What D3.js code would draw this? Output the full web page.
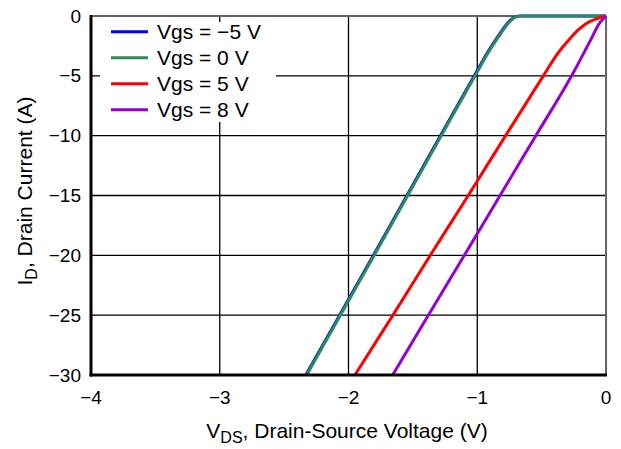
<!DOCTYPE html>
<html>
<head>
<meta charset="utf-8">
<script src="https://cdn.jsdelivr.net/npm/d3@7"></script>
<style>
  html, body { margin: 0; padding: 0; background: #fff; }
  svg { display: block; font-family: "Liberation Sans", Arial, Helvetica, sans-serif; }
</style>
</head>
<body>
<div id="chart"></div>
<script>
// tick values
const xTicks = [-4, -3, -2, -1, 0]
const yTicks = [0, -5, -10, -15, -20, -25, -30]

// curves: [VDS (V), ID (A)]
const vgsNeg5 = [[-2.331, -30], [-2.069, -25], [-1.806, -20], [-1.546, -15], [-1.286, -10], [-1.023, -5],
  [-0.906, -2.8], [-0.829, -1.55], [-0.776, -0.75], [-0.726, -0.2], [-0.696, -0.04], [-0.666, 0], [-0.3, 0], [0, 0]]
const vgs0 = [[-2.325, -30], [-2.063, -25], [-1.80, -20], [-1.54, -15], [-1.28, -10], [-1.017, -5],
  [-0.90, -2.8], [-0.823, -1.55], [-0.77, -0.75], [-0.72, -0.2], [-0.69, -0.04], [-0.66, 0], [-0.3, 0], [0, 0]]
const vgs5 = [[-1.95, -30], [-1.655, -25], [-1.365, -20], [-1.07, -15], [-0.78, -10], [-0.487, -5],
  [-0.38, -3.2], [-0.305, -2.2], [-0.22, -1.2], [-0.15, -0.6], [-0.08, -0.25], [0, 0]]
const vgs8 = [[-1.657, -30], [-1.38, -25], [-1.10, -20], [-0.823, -15], [-0.545, -10], [-0.267, -5],
  [-0.124, -2.1], [-0.05, -0.6], [0, 0]]

const series = [
  { label: 'Vgs = \u22125 V', color: '#0000ff', data: vgsNeg5 },
  { label: 'Vgs = 0 V', color: '#2e8b57', data: vgs0 },
  { label: 'Vgs = 5 V', color: '#ff0000', data: vgs5 },
  { label: 'Vgs = 8 V', color: '#9400d3', data: vgs8 },
]

const width = 621
const height = 449
const margin = { top: 16, right: 15, bottom: 74, left: 91 }
const innerW = width - margin.left - margin.right
const innerH = height - margin.top - margin.bottom

const fmt = (d) => (d < 0 ? '\u2212' + Math.abs(d) : String(d))

const svg = d3.select('#chart').append('svg').attr('width', width).attr('height', height)
const g = svg.append('g').attr('transform', `translate(${margin.left},${margin.top})`)

const x = d3.scaleLinear().domain([-4, 0]).range([0, innerW])
const y = d3.scaleLinear().domain([-30, 0]).range([innerH, 0])

// grid
g.append('g')
  .selectAll('line')
  .data(xTicks.slice(1, -1))
  .join('line')
  .attr('x1', (d) => x(d)).attr('x2', (d) => x(d))
  .attr('y1', 0).attr('y2', innerH)
  .attr('stroke', '#000').attr('stroke-width', 1.3)
g.append('g')
  .selectAll('line')
  .data(yTicks.slice(1, -1))
  .join('line')
  .attr('x1', 0).attr('x2', innerW)
  .attr('y1', (d) => y(d)).attr('y2', (d) => y(d))
  .attr('stroke', '#000').attr('stroke-width', 1.3)

// top/right frame (grey)
g.append('line').attr('x1', 0).attr('x2', innerW).attr('y1', 0).attr('y2', 0)
  .attr('stroke', '#666').attr('stroke-width', 2)
g.append('line').attr('x1', innerW).attr('x2', innerW).attr('y1', 0).attr('y2', innerH)
  .attr('stroke', '#666').attr('stroke-width', 2)

// legend box covers grid
const legendG = g.append('g')
legendG.append('rect').attr('x', 9).attr('y', 6).attr('width', 176).attr('height', 100).attr('fill', '#fff')

// curves
svg.append('defs').append('clipPath').attr('id', 'clip')
  .append('rect').attr('x', 0).attr('y', -3).attr('width', innerW + 2).attr('height', innerH + 3)

const line = d3.line()
  .x((d) => x(d[0]))
  .y((d) => y(d[1]))
  .curve(d3.curveMonotoneX)

g.append('g').attr('clip-path', 'url(#clip)')
  .selectAll('path')
  .data(series)
  .join('path')
  .attr('fill', 'none')
  .attr('stroke', (d) => d.color)
  .attr('stroke-width', 3)
  .attr('stroke-linejoin', 'round')
  .attr('d', (d) => line(d.data))

// left / bottom axis (thick black)
g.append('line').attr('x1', 0).attr('x2', 0).attr('y1', -1).attr('y2', innerH + 1.5)
  .attr('stroke', '#000').attr('stroke-width', 3)
g.append('line').attr('x1', -1.5).attr('x2', innerW + 1).attr('y1', innerH).attr('y2', innerH)
  .attr('stroke', '#000').attr('stroke-width', 3)

// tick labels
g.append('g')
  .selectAll('text')
  .data(yTicks)
  .join('text')
  .attr('x', -10)
  .attr('y', (d) => y(d))
  .attr('dy', '0.35em')
  .attr('text-anchor', 'end')
  .attr('font-size', 19)
  .text(fmt)
g.append('g')
  .selectAll('text')
  .data(xTicks)
  .join('text')
  .attr('x', (d) => x(d))
  .attr('y', innerH + 29)
  .attr('text-anchor', 'middle')
  .attr('font-size', 19)
  .text(fmt)

// axis titles
const xt = svg.append('text')
  .attr('x', 347)
  .attr('y', 438)
  .attr('text-anchor', 'middle')
  .attr('font-size', 21)
xt.append('tspan').text('V')
xt.append('tspan').attr('dy', 5).attr('font-size', 16).text('DS')
xt.append('tspan').attr('dy', -5).text(', Drain-Source Voltage (V)')

const yt = svg.append('text')
  .attr('transform', 'translate(32,191) rotate(-90)')
  .attr('text-anchor', 'middle')
  .attr('font-size', 21)
yt.append('tspan').text('I')
yt.append('tspan').attr('dy', 5).attr('font-size', 16).text('D')
yt.append('tspan').attr('dy', -5).text(', Drain Current (A)')

// legend entries
const items = legendG.selectAll('g.item')
  .data(series)
  .join('g')
  .attr('class', 'item')
  .attr('transform', (d, i) => `translate(0,${15.7 + i * 26})`)
items.append('line')
  .attr('x1', 20).attr('x2', 57)
  .attr('stroke', (d) => d.color).attr('stroke-width', 3)
items.append('text')
  .attr('x', 66)
  .attr('dy', '0.35em')
  .attr('font-size', 21)
  .text((d) => d.label)
</script>
</body>
</html>
